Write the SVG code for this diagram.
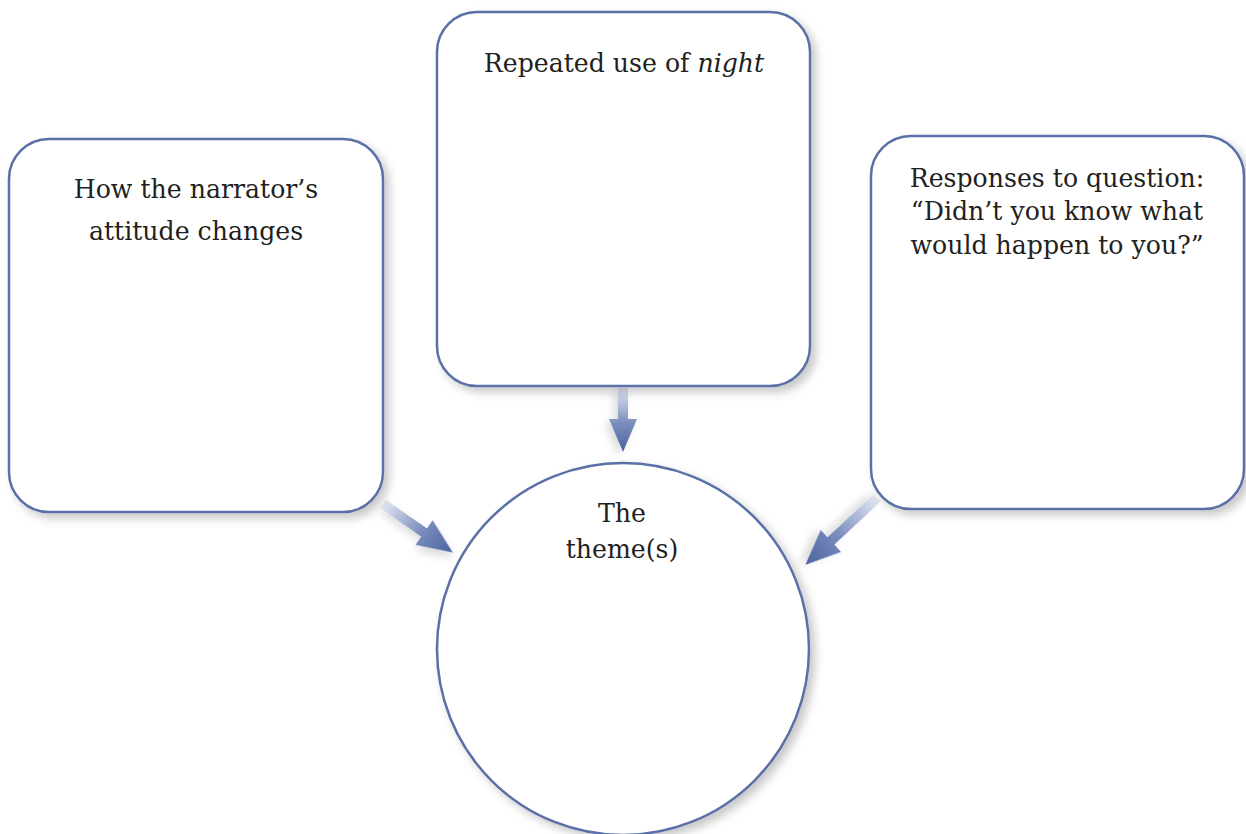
<svg xmlns="http://www.w3.org/2000/svg" width="1246" height="834" viewBox="0 0 1246 834">
<style>
.box{fill:#fff;stroke:#5a70a6;stroke-width:2.5;filter:url(#sh)}
.t{font-family:"DejaVu Serif","Liberation Serif",serif;font-size:25.2px;fill:#231f20;text-anchor:middle}
.arr{fill:url(#ag)}
</style>
<defs>
<filter id="sh" x="-10%" y="-10%" width="125%" height="125%">
<feDropShadow dx="5" dy="5" stdDeviation="5" flood-color="#000" flood-opacity="0.22"/>
</filter>
<filter id="ash" x="-20%" y="-40%" width="150%" height="200%">
<feDropShadow dx="4" dy="4" stdDeviation="4" flood-color="#000" flood-opacity="0.15"/>
</filter>
<linearGradient id="ag" x1="0" y1="0" x2="1" y2="0">
<stop offset="0" stop-color="#e2e7f2"/>
<stop offset="0.55" stop-color="#7a8dbd"/>
<stop offset="1" stop-color="#4a639e"/>
</linearGradient>
</defs>
<rect width="1246" height="834" fill="#fff"/>
<g id="connectors">
<path class="arr" filter="url(#ash)" transform="translate(623,388) rotate(90)" d="M0,-5 L31,-5 L31,-14 L64,0 L31,14 L31,5 L0,5 Z"/>
<path class="arr" filter="url(#ash)" transform="translate(383,504) rotate(34.8)" d="M0,-5 L50,-5 L50,-15 L85,0 L50,15 L50,5 L0,5 Z"/>
<path class="arr" filter="url(#ash)" transform="translate(877,498) rotate(137)" d="M0,-5 L63,-5 L63,-15 L98,0 L63,15 L63,5 L0,5 Z"/>
</g>
<g id="node-attitude">
<rect class="box" x="9" y="139" width="374" height="373" rx="40"/>
<text class="t" x="196" y="198">How the narrator’s</text>
<text class="t" x="196" y="240">attitude changes</text>
</g>
<g id="node-night">
<rect class="box" x="437" y="12" width="373" height="374" rx="40"/>
<text class="t" x="624" y="72">Repeated use of <tspan font-style="italic">night</tspan></text>
</g>
<g id="node-question">
<rect class="box" x="871" y="136" width="373" height="373" rx="40"/>
<text class="t" x="1057" y="187">Responses to question:</text>
<text class="t" x="1057" y="220">“Didn’t you know what</text>
<text class="t" x="1057" y="254">would happen to you?”</text>
</g>
<g id="node-theme">
<circle class="box" cx="623" cy="649" r="186"/>
<text class="t" x="622" y="522">The</text>
<text class="t" x="622" y="558">theme(s)</text>
</g>
</svg>
